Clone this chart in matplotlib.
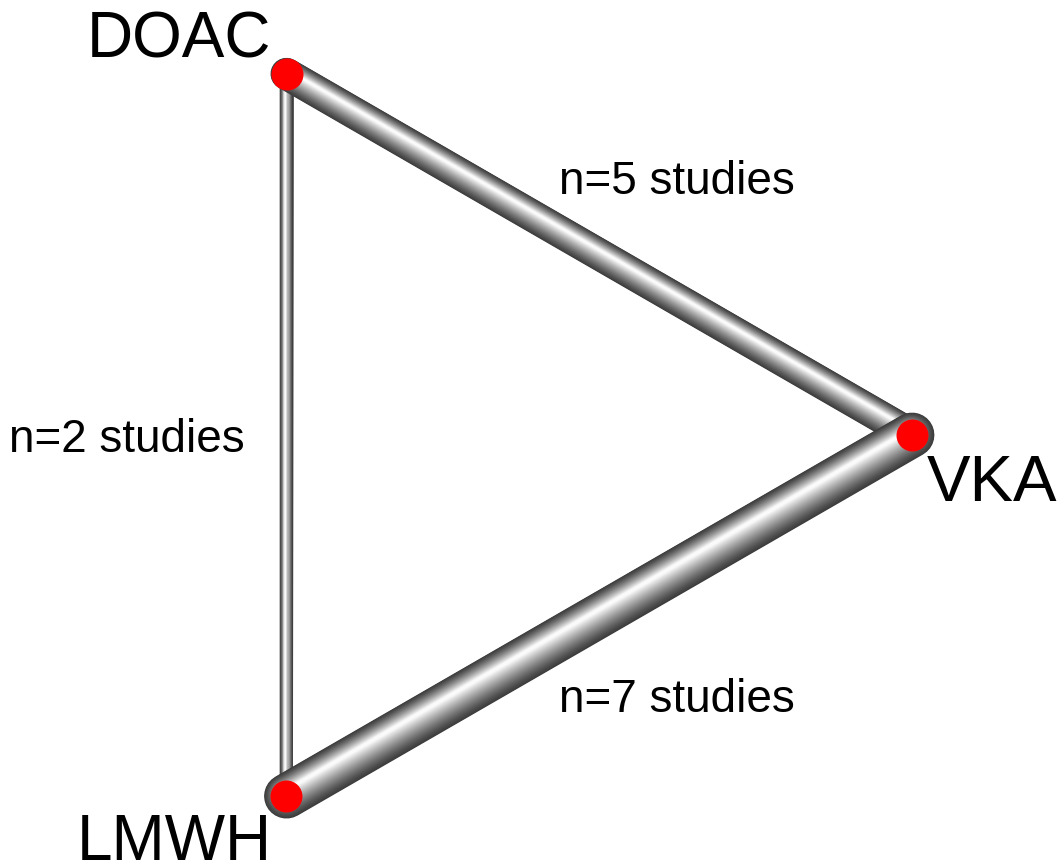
import numpy as np
import matplotlib
matplotlib.use('Agg')
from matplotlib import pyplot as plt
from matplotlib.transforms import offset_copy

plt.rcParams['font.family'] = ['Liberation Sans', 'DejaVu Sans']

# 网络数据
nodes = ['VKA', 'DOAC', 'LMWH']
edges = [('DOAC', 'LMWH'), ('DOAC', 'VKA'), ('LMWH', 'VKA')]
n_studies = [2, 5, 7]

# 圆形布局（等边三角形）
angles = {'VKA': 0, 'DOAC': 120, 'LMWH': 240}
cx, cy, r = 495, 436, 417
pos = {k: (cx + r * np.cos(np.radians(a)), cy - r * np.sin(np.radians(a))) for k, a in angles.items()}

fig = plt.figure(figsize=(10.6, 8.62), dpi=100)
ax = fig.add_axes([0, 0, 1, 1])
ax.set_xlim(0, 1060)
ax.set_ylim(862, 0)
ax.axis('off')

px = 0.72  # 像素转磅
steps = 40
for (a, b), n in zip(edges, n_studies):
    x = [pos[a][0], pos[b][0]]
    y = [pos[a][1], pos[b][1]]
    w = n * 6.4 * px
    # 高光向上偏移（屏幕坐标中的法向量）
    dx, dy = x[1] - x[0], -(y[1] - y[0])
    nx, ny = -dy, dx
    L = np.hypot(nx, ny)
    nx, ny = nx / L, ny / L
    if ny < 0 or (ny == 0 and nx > 0):
        nx, ny = -nx, -ny
    if abs(ny) < 1e-6:
        nx, ny = -1, 0
    for k in range(steps):
        t = k / (steps - 1)
        g = 0.24 + 0.74 * t ** 1.25
        off = w * 0.12 * t
        tr = offset_copy(ax.transData, fig=fig, x=nx * off, y=ny * off, units='points')
        ax.plot(x, y, color=(g, g, g), lw=w * (1 - t * 0.93), solid_capstyle='round',
                zorder=1, transform=tr)

for k in nodes:
    ax.plot(*pos[k], 'o', color='red', ms=32 * px, mec='none', zorder=3)

# 节点标签
ax.text(179, 57, 'DOAC', fontsize=46, ha='center', va='baseline')
ax.text(992, 501, 'VKA', fontsize=47, ha='center', va='baseline')
ax.text(174, 860, 'LMWH', fontsize=46, ha='center', va='baseline')

# 边标签
ax.text(677, 182, 'n=5 studies', fontsize=33, ha='center', va='center')
ax.text(127, 440, 'n=2 studies', fontsize=33, ha='center', va='center')
ax.text(677, 700, 'n=7 studies', fontsize=33, ha='center', va='center')

plt.savefig('out.png', dpi=100)
